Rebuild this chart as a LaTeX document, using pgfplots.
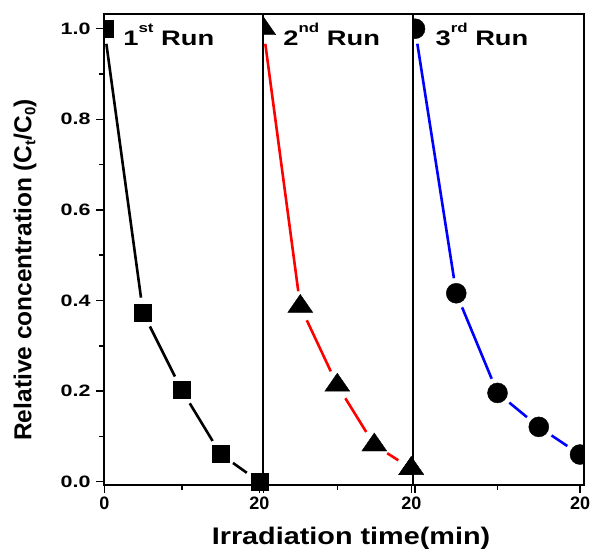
\documentclass[border=0pt]{standalone}
\usepackage{fontspec}
\setmainfont{Liberation Sans}[FakeStretch=1.2]
\newfontfamily\runfont{Liberation Sans}[FakeStretch=1.3]
\newfontfamily\tickfont{Liberation Sans}[FakeStretch=1.3]
\newfontfamily\ylabfont{Liberation Sans}
\usepackage{pgfplots}
\usepackage{pgfplotstable}
\pgfplotsset{compat=1.18}

\pgfplotstableread{
t c
0 1.0
5 0.373
10 0.202
15 0.061
20 0.0
}\runA
\pgfplotstableread{
t c
0 1.0
5 0.387
10 0.213
15 0.081
20 0.029
}\runB
\pgfplotstableread{
t c
0 1.0
5 0.416
10 0.196
15 0.121
20 0.060
}\runC

\pgfplotsset{
  panel/.style={
    scale only axis, height=471pt, ymin=-0.0073, ymax=1.0325,
    axis on top, clip marker paths=true,
    tick align=outside, major tick length=8pt, minor tick length=5pt,
    tick pos=left,
    minor xtick={10},
    axis line style={line width=1.6pt},
    every outer x axis line/.append style={line width=1.6pt},
    every outer y axis line/.append style={line width=1.6pt},
    every tick/.append style={line width=1.5pt, black},
    every minor tick/.append style={line width=1.5pt, black},
    yticklabel style={font=\tickfont\bfseries\fontsize{16.5}{16.5}\selectfont, xshift=-2pt},
    xticklabel style={font=\ylabfont\bfseries\fontsize{18}{18}\selectfont},
    /pgf/number format/assume math mode=true,
    anchor=south west,
  },
  ovl/.style={
    scale only axis, height=471pt, ymin=-0.0073, ymax=1.0325,
    hide axis, clip=false, anchor=south west,
  },
}
\tikzset{runlab/.style={anchor=base west, font=\runfont\bfseries\fontsize{21}{21}\selectfont}}
\newcommand{\supx}[1]{\raisebox{13pt}{\fontsize{13}{13}\selectfont #1}}
\newcommand{\subx}[1]{\raisebox{-4pt}{\fontsize{15}{15}\selectfont #1}}

\begin{document}
\begin{tikzpicture}
\path[use as bounding box] (0,0) rectangle (592pt,550pt);

% Panel 1
\begin{axis}[panel, at={(104pt,65pt)}, width=158.7pt, xmin=-0.04, xmax=20.44,
  xtick={0,20}, xticklabels={0,20},
  ytick={0,0.2,0.4,0.6,0.8,1}, yticklabels={0.0,0.2,0.4,0.6,0.8,1.0},
  minor ytick={0.1,0.3,0.5,0.7,0.9}]
\addplot[black, line width=2.6pt] table {\runA};
\addplot[white, only marks, mark=*, mark size=15pt] table {\runA};
\addplot[black, only marks, mark=square*, mark size=8.5pt] table {\runA};
\node[runlab] at (rel axis cs:0.10,0.934) {1\supx{st} Run};
\end{axis}
\begin{axis}[ovl, at={(104pt,65pt)}, width=158.7pt, xmin=-0.04, xmax=20.44]
\addplot[black, only marks, mark=square*, mark size=8.5pt] coordinates {(20,0.0)};
\end{axis}

% Panel 2
\begin{axis}[panel, at={(262.7pt,65pt)}, width=150pt, xmin=-0.08, xmax=20.19,
  xtick={0,20}, xticklabels={,20},
  ytick=\empty, minor ytick={}]
\addplot[red, line width=2.6pt] table {\runB};
\addplot[white, only marks, mark=*, mark size=15pt] table {\runB};
\addplot[black, only marks, mark=triangle*, mark size=12pt, mark options={xscale=1.2}] table {\runB};
\node[runlab] at (rel axis cs:0.115,0.934) {2\supx{nd} Run};
\end{axis}
\begin{axis}[ovl, at={(262.7pt,65pt)}, width=150pt, xmin=-0.08, xmax=20.19]
\addplot[black, only marks, mark=triangle*, mark size=12pt, mark options={xscale=1.2}] coordinates {(20,0.029)};
\end{axis}

% Panel 3
\begin{axis}[panel, at={(412.7pt,65pt)}, width=171.3pt, xmin=-0.28, xmax=20.48,
  xtick={0,20}, xticklabels={,20},
  ytick=\empty, minor ytick={}]
\addplot[blue, line width=2.6pt] table {\runC};
\addplot[white, only marks, mark=*, mark size=15pt] table {\runC};
\addplot[black, only marks, mark=*, mark size=10pt] table {\runC};
\node[runlab] at (rel axis cs:0.113,0.934) {3\supx{rd} Run};
\end{axis}

\node[anchor=base, font=\bfseries\fontsize{24}{24}\selectfont] at (351pt,6pt) {Irradiation time(min)};
\node[rotate=90, anchor=center, font=\ylabfont\bfseries\fontsize{24.5}{24.5}\selectfont] at (25pt,280pt)
  {Relative concentration (C\subx{t}/C\subx{0})};
\end{tikzpicture}
\end{document}
